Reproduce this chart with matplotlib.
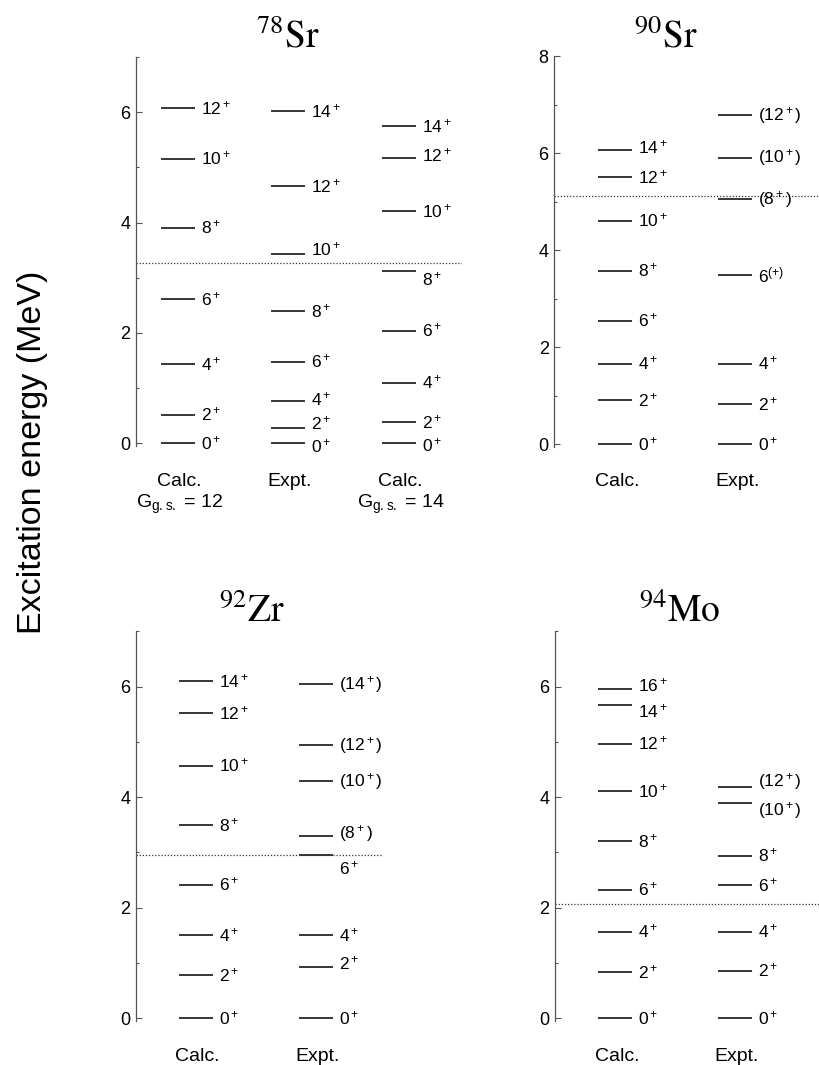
import matplotlib
matplotlib.use('Agg')
import matplotlib.pyplot as plt
from matplotlib.ticker import MultipleLocator
from matplotlib.transforms import offset_copy

plt.rcParams['font.family'] = ['Liberation Sans', 'DejaVu Sans']
plt.rcParams['mathtext.fontset'] = 'custom'
plt.rcParams['mathtext.rm'] = 'Liberation Sans'
plt.rcParams['mathtext.it'] = 'Liberation Sans:italic'
plt.rcParams['mathtext.bf'] = 'Liberation Sans:bold'

# ---- 能级数据 (MeV), 读自原图 ----
sr78_calc12_E = [0, 0.52, 1.43, 2.61, 3.91, 5.16, 6.08]
sr78_calc12_J = ['0$^+$', '2$^+$', '4$^+$', '6$^+$', '8$^+$', '10$^+$', '12$^+$']
sr78_expt_E = [0, 0.27, 0.77, 1.48, 2.39, 3.44, 4.66, 6.02]
sr78_expt_J = ['0$^+$', '2$^+$', '4$^+$', '6$^+$', '8$^+$', '10$^+$', '12$^+$', '14$^+$']
sr78_calc14_E = [0, 0.39, 1.10, 2.04, 3.12, 4.21, 5.17, 5.75]
sr78_calc14_J = ['0$^+$', '2$^+$', '4$^+$', '6$^+$', '8$^+$', '10$^+$', '12$^+$', '14$^+$']
sr78_cut = 3.27

sr90_calc_E = [0, 0.91, 1.66, 2.55, 3.58, 4.61, 5.51, 6.06]
sr90_calc_J = ['0$^+$', '2$^+$', '4$^+$', '6$^+$', '8$^+$', '10$^+$', '12$^+$', '14$^+$']
sr90_expt_E = [0, 0.83, 1.66, 3.49, 5.05, 5.91, 6.78]
sr90_expt_J = ['0$^+$', '2$^+$', '4$^+$', '6$^{(+)}$', '(8$^+$)', '(10$^+$)', '(12$^+$)']
sr90_cut = 5.11

zr92_calc_E = [0, 0.78, 1.50, 2.42, 3.49, 4.57, 5.52, 6.10]
zr92_calc_J = ['0$^+$', '2$^+$', '4$^+$', '6$^+$', '8$^+$', '10$^+$', '12$^+$', '14$^+$']
zr92_expt_E = [0, 0.93, 1.50, 2.95, 3.30, 4.29, 4.94, 6.04]
zr92_expt_J = ['0$^+$', '2$^+$', '4$^+$', '6$^+$', '(8$^+$)', '(10$^+$)', '(12$^+$)', '(14$^+$)']
zr92_cut = 2.95

mo94_calc_E = [0, 0.83, 1.57, 2.33, 3.20, 4.11, 4.97, 5.66, 5.96]
mo94_calc_J = ['0$^+$', '2$^+$', '4$^+$', '6$^+$', '8$^+$', '10$^+$', '12$^+$', '14$^+$', '16$^+$']
mo94_expt_E = [0, 0.86, 1.57, 2.41, 2.94, 3.90, 4.18]
mo94_expt_J = ['0$^+$', '2$^+$', '4$^+$', '6$^+$', '8$^+$', '(10$^+$)', '(12$^+$)']
mo94_cut = 2.07

FIG_W, FIG_H = 820, 1065


def px_axes(fig, left, right, top, bottom):
    """像素框 -> add_axes"""
    return fig.add_axes([left / FIG_W, 1 - bottom / FIG_H,
                         (right - left) / FIG_W, (bottom - top) / FIG_H])


def level_panel(ax, cols, ymax, cut, xr):
    """cols: [(E, J, 标签微调dict, 列中心px, 底部文字)] ; x 单位为像素(相对纵轴)"""
    half, gap = 17, 6
    for E, J, nudge, cx, bottom in cols:
        ax.hlines(E, cx - half, cx + half, color='k', lw=1.1)
        for i, (e, j) in enumerate(zip(E, J)):
            ax.text(cx + half + gap, e + nudge.get(i, 0.0), j, fontsize=12.5,
                    va='center', ha='left')
        for k, s in enumerate(bottom):
            tr_k = offset_copy(ax.get_xaxis_transform(), fig=ax.figure,
                               y=-35 - 23 * k, units='dots')
            ax.text(cx + 2, 0, s, transform=tr_k, fontsize=14, ha='center',
                    va='center')
    ax.axhline(cut, color='#333333', lw=0.9, ls=(0, (1, 1.5)))
    ax.set_xlim(0, xr)
    ax.set_ylim(-0.05, ymax)
    ax.yaxis.set_major_locator(MultipleLocator(2))
    ax.yaxis.set_minor_locator(MultipleLocator(1))
    ax.tick_params(axis='y', which='both', direction='in', colors='#555555',
                   labelcolor='k', labelsize=13, pad=4)
    ax.tick_params(axis='y', which='major', length=4.5, width=0.8)
    ax.tick_params(axis='y', which='minor', length=2.5, width=0.8)
    for s in ('top', 'right', 'bottom'):
        ax.spines[s].set_visible(False)
    ax.spines['left'].set_color('#555555')
    ax.spines['left'].set_linewidth(0.9)
    ax.set_xticks([])
    ax.patch.set_alpha(0)


fig = plt.figure(figsize=(FIG_W / 100, FIG_H / 100), dpi=100)

ax1 = px_axes(fig, 135.7, 462, 57.1, 446.1)
level_panel(ax1, [
    (sr78_calc12_E, sr78_calc12_J, {}, 42, ['Calc.', 'G$_{\\mathrm{g.s.}}$ = 12']),
    (sr78_expt_E, sr78_expt_J, {0: -0.06, 1: 0.09, 2: 0.03, 5: 0.07}, 152, ['Expt.']),
    (sr78_calc14_E, sr78_calc14_J, {0: -0.04, 4: -0.14, 6: 0.05}, 263,
     ['Calc.', 'G$_{\\mathrm{g.s.}}$ = 14']),
], 7, sr78_cut, 462 - 135.7)

ax2 = px_axes(fig, 554.3, 820, 56.3, 446.7)
level_panel(ax2, [
    (sr90_calc_E, sr90_calc_J, {7: 0.07}, 61, ['Calc.']),
    (sr90_expt_E, sr90_expt_J, {}, 181, ['Expt.']),
], 8, sr90_cut, 820 - 554.3)

ax3 = px_axes(fig, 135.7, 383, 631.3, 1021.1)
level_panel(ax3, [
    (zr92_calc_E, zr92_calc_J, {}, 60, ['Calc.']),
    (zr92_expt_E, zr92_expt_J, {1: 0.06, 3: -0.24, 4: 0.04}, 180, ['Expt.']),
], 7, zr92_cut, 383 - 135.7)

ax4 = px_axes(fig, 555, 820, 631.3, 1021.1)
level_panel(ax4, [
    (mo94_calc_E, mo94_calc_J, {7: -0.1, 8: 0.07}, 60, ['Calc.']),
    (mo94_expt_E, mo94_expt_J, {5: -0.14, 6: 0.1}, 180, ['Expt.']),
], 7, mo94_cut, 820 - 555)

titles = [('$^{78}\\mathrm{Sr}$', 288, 47), ('$^{90}\\mathrm{Sr}$', 666, 47),
          ('$^{92}\\mathrm{Zr}$', 252, 622), ('$^{94}\\mathrm{Mo}$', 680, 622)]
for s, x, y in titles:
    fig.text(x / FIG_W, 1 - y / FIG_H, s, fontsize=27, ha='center',
             va='baseline', math_fontfamily='stix')

fig.text(33 / FIG_W, 1 - 452 / FIG_H, 'Excitation energy (MeV)', rotation=90,
         fontsize=24.5, ha='center', va='center')

fig.savefig('out.png', dpi=100)
